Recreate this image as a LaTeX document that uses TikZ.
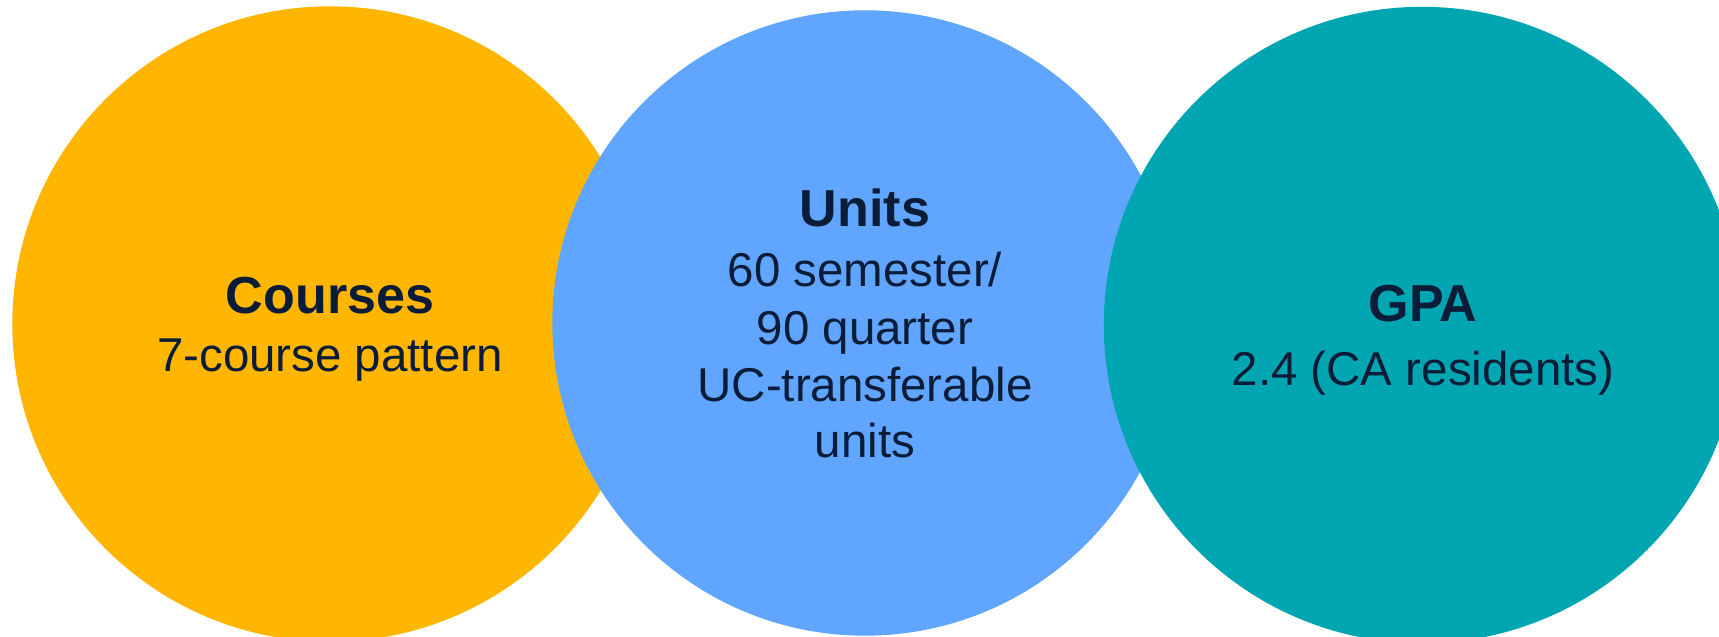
\documentclass[tikz,border=0pt]{standalone}
\usepackage{fontspec}
\setmainfont{Liberation Sans}
\usepackage{xcolor}
\definecolor{courseorange}{RGB}{255,182,0}
\definecolor{unitblue}{RGB}{96,165,255}
\definecolor{gpateal}{RGB}{0,165,178}
\definecolor{textnavy}{RGB}{11,28,56}

\tikzset{
 bubble/.style={circle, inner sep=0pt, draw=none},
 heading/.style={anchor=base, inner sep=0pt, text=textnavy, font=\fontsize{14.8}{17}\selectfont\bfseries},
 detail/.style={anchor=base, inner sep=0pt, text=textnavy, font=\fontsize{13.5}{17}\selectfont},
}

\begin{document}
\begin{tikzpicture}[x=0.01cm, y=0.01cm]
 \clip (0,0) rectangle (1719,637);
 \coordinate (A) at (330,313);
 \coordinate (B) at (865,314);
 \coordinate (C) at (1422,312);

 \node[bubble, fill=courseorange, minimum size=6.35cm] (courses) at (A) {};
 \node[bubble, fill=unitblue, minimum size=6.25cm] (units) at (B) {};
 \node[bubble, fill=gpateal, minimum size=6.36cm] (gpa) at (C) {};

 \node[heading] (coursesHead) at (330,323) {Courses};
 \node[detail] (coursesText) at (330,265) {7-course pattern};

 \node[heading] (unitsHead) at (865,410) {Units};
 \node[detail] (unitsLineA) at (865,350) {60 semester/};
 \node[detail] (unitsLineB) at (865,292) {90 quarter};
 \node[detail] (unitsLineC) at (865,235) {UC-transferable};
 \node[detail] (unitsLineD) at (865,179) {units};

 \node[heading] (gpaHead) at (1423,315) {GPA};
 \node[detail] (gpaText) at (1423,251) {2.4 (CA residents)};

\end{tikzpicture}
\end{document}
